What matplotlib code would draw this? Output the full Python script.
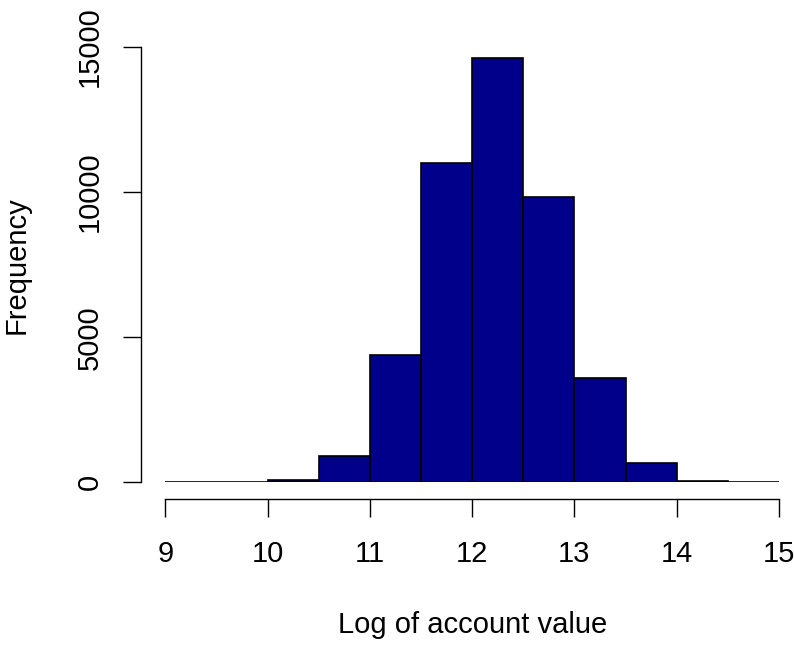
import matplotlib
matplotlib.use('Agg')

import numpy as np
import matplotlib.pyplot as plt

# histogram bins of the log account value (width 0.5) and their counts
bin_edges = [9.0, 9.5, 10.0, 10.5, 11.0, 11.5, 12.0, 12.5, 13.0, 13.5, 14.0, 14.5, 15.0]
counts = [0, 0, 80, 890, 4370, 11010, 14610, 9830, 3600, 670, 50, 0]

x_ticks = [9, 10, 11, 12, 13, 14, 15]
y_ticks = [0, 5000, 10000, 15000]

FS = 21

plt.rcParams['font.family'] = ['Liberation Sans', 'DejaVu Sans']

fig = plt.figure(figsize=(7.94, 6.45), dpi=100)
# axes box covers exactly x 9..15 and y 0..15000
ax = fig.add_axes([165.3 / 794, (645 - 482.3) / 645,
                   (779.0 - 165.3) / 794, (482.3 - 47.0) / 645])

left = np.array(bin_edges[:-1])
widths = np.diff(bin_edges)
ax.bar(left, counts, width=widths, align='edge', color='#00008B',
       edgecolor='black', linewidth=1.2)

ax.set_xlim(9, 15)
ax.set_ylim(0, 15000)

# detached axes, R style
for side in ['top', 'right']:
    ax.spines[side].set_visible(False)
ax.spines['left'].set_position(('outward', 17.5))
ax.spines['bottom'].set_position(('outward', 12.2))
ax.spines['left'].set_bounds(0, 15000)
ax.spines['bottom'].set_bounds(9, 15)
ax.spines['left'].set_linewidth(1.0)
ax.spines['bottom'].set_linewidth(1.0)

ax.set_xticks(x_ticks)
ax.set_xticklabels([str(t) for t in x_ticks])
ax.set_yticks(y_ticks)
ax.set_yticklabels([str(t) for t in y_ticks], rotation=90, va='center')

ax.tick_params(axis='both', length=13, width=1.0, labelsize=FS,
               colors='black')
ax.tick_params(axis='x', pad=16.5)
ax.tick_params(axis='y', pad=14)

ax.set_xlabel('Log of account value', fontsize=FS, labelpad=31)
ax.set_ylabel('Frequency', fontsize=FS, labelpad=32.5)

fig.savefig('out.png', dpi=100, facecolor='white')
